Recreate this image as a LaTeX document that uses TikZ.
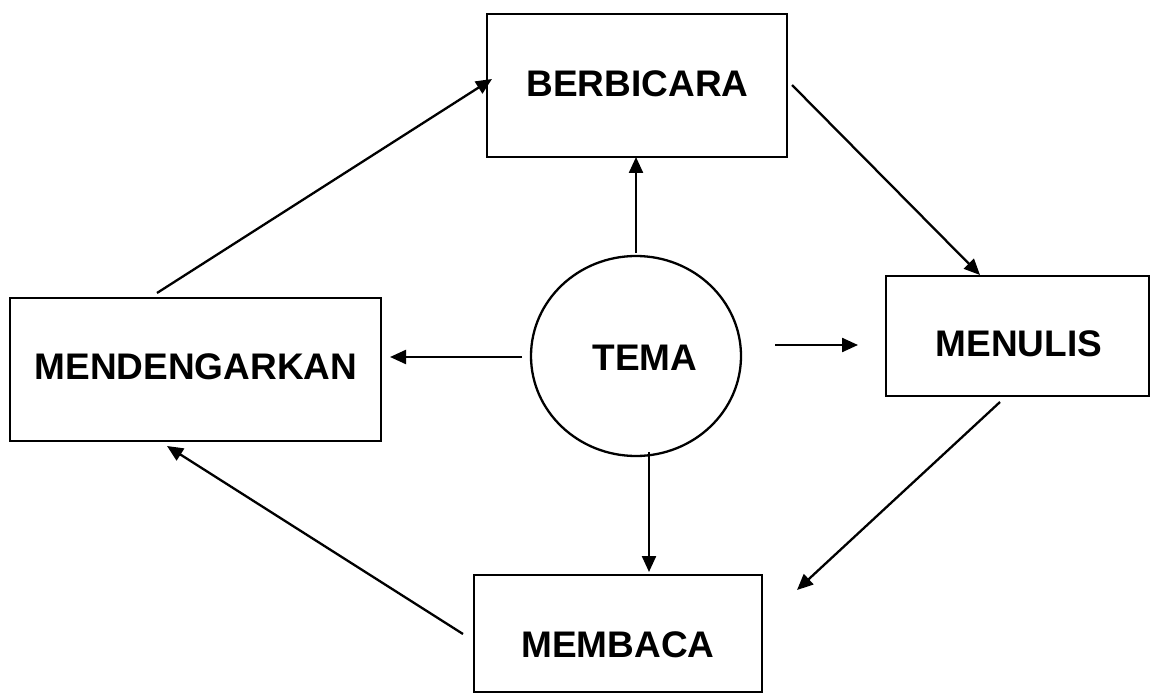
\documentclass[tikz,border=0pt]{standalone}
\usepackage{fontspec}
\setmainfont{Liberation Sans}
\usetikzlibrary{arrows.meta,shapes.geometric}
\begin{document}
\begin{tikzpicture}[x=1pt,y=-1pt,
  box/.style={draw,line width=2.3pt,inner sep=0pt,minimum width=#1},
  word/.style={font=\fontsize{37}{40}\selectfont\bfseries,inner sep=0pt},
  arr/.style={line width=2.3pt,-{Triangle[length=16pt,width=14pt]}}]
\useasboundingbox (0,0) rectangle (1153,700);
% boxes
\node[box=300pt,minimum height=143pt] (ber) at (637,85.5) {};
\node[box=371pt,minimum height=143pt] (men) at (195.5,369.5) {};
\node[box=263pt,minimum height=120pt] (nul) at (1017.5,336) {};
\node[box=288pt,minimum height=117pt] (mba) at (618,633.5) {};
\node[draw,line width=2.3pt,ellipse,minimum width=210pt,minimum height=200pt,inner sep=0pt] (tema) at (636,356) {};
% labels
\node[word] (lber) at (637.5,84) {BERBICARA};
\node[word] (lmen) at (196,367) {MENDENGARKAN};
\node[word] (lnul) at (1019,344) {MENULIS};
\node[word] (lmba) at (618,645) {MEMBACA};
\node[word] (ltema) at (645,358) {TEMA};
% connector end points
\coordinate (p1) at (636,253);
\coordinate (q1) at (636,157);
\coordinate (p2) at (157,293);
\coordinate (q2) at (492,79);
\coordinate (p3) at (792,85);
\coordinate (q3) at (980,275);
\coordinate (p4) at (775,345);
\coordinate (q4) at (858,345);
\coordinate (p5) at (522,357);
\coordinate (q5) at (390,357);
\coordinate (p6) at (649,452);
\coordinate (q6) at (649,572);
\coordinate (p7) at (1000,402);
\coordinate (q7) at (797,590);
\coordinate (p8) at (463,634);
\coordinate (q8) at (167,446);
% connectors
\draw[arr] (p1) -- (q1);
\draw[arr] (p2) -- (q2);
\draw[arr] (p3) -- (q3);
\draw[arr] (p4) -- (q4);
\draw[arr] (p5) -- (q5);
\draw[arr] (p6) -- (q6);
\draw[arr] (p7) -- (q7);
\draw[arr] (p8) -- (q8);
\end{tikzpicture}
\end{document}
